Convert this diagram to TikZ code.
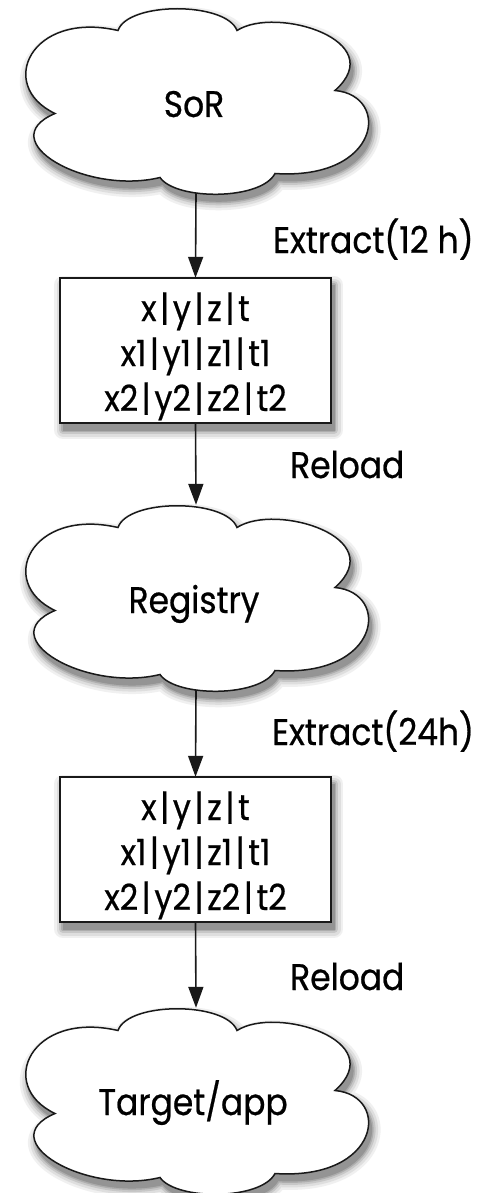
\documentclass[tikz,border=0pt]{standalone}
\usepackage{fontspec}
\setmainfont{Poppins}[FakeStretch=0.89, FakeBold=0.6]
\usetikzlibrary{arrows.meta}

% a bar with some air on both sides
\newcommand\sep{\kern3.5pt|\kern3.5pt}

\tikzset{
  cloudshape/.style={insert path={(-78,-70)
      .. controls (-68,-99) and (30,-99) .. (41,-70)
      .. controls (80,-95) and (195,-60) .. (139,-10)
      .. controls (195,-5) and (185,80) .. (79,73)
      .. controls (65,100) and (-20,100) .. (-36,77)
      .. controls (-110,95) and (-205,40) .. (-141,13)
      .. controls (-200,-15) and (-165,-90) .. cycle}},
  tableshape/.style={insert path={(-135.5,-72.5) rectangle (135.5,72.5)}},
  % soft drop shadow: stacked strokes, wide and light to thin and dark
  haze/.style 2 args={draw=black!#2, line width=#1, line join=round},
  outline/.style={draw=black!90, line width=1.5pt, fill=white},
  cloudarea/.style={minimum width=342pt, minimum height=185pt, inner sep=0pt},
  tablearea/.style={minimum width=271pt, minimum height=145pt, inner sep=0pt},
  cloudtext/.style={font=\fontsize{37}{44}\selectfont, anchor=base, inner sep=0pt},
  tbltext/.style={font=\fontsize{36}{44}\selectfont, anchor=base, inner sep=0pt},
  lbl/.style={font=\fontsize{37}{44}\selectfont, anchor=base west, inner sep=0pt},
  flow/.style={draw=black!90, line width=1.6pt, -{Triangle[length=21pt,width=15pt]}}
}

\newcommand\softshadow[2]{%
  \begin{scope}[shift={#1}, xshift=3pt, yshift=-7pt]
    \path[haze={18pt}{6}, #2];
    \path[haze={13pt}{13}, #2];
    \path[haze={8pt}{22}, #2];
    \path[haze={4pt}{32}, #2];
    \path[fill=black!42, draw=black!42, line width=1pt, #2];
  \end{scope}}

\begin{document}
\begin{tikzpicture}[x=1pt,y=-1pt]
  \useasboundingbox (0,0) rectangle (493,1193);
  \fill[white] (0,0) rectangle (493,1193);

  % shadows underneath everything
  \softshadow{(196,100.5)}{cloudshape}
  \softshadow{(196,597.5)}{cloudshape}
  \softshadow{(196,1100.5)}{cloudshape}
  \softshadow{(195.5,350.5)}{tableshape}
  \softshadow{(195.5,849.5)}{tableshape}

  % clouds: outline, then an invisible node of the same extent
  \path[outline, shift={(196,100.5)}, cloudshape];
  \node[cloudarea] (sor) at (196,100.5) {};
  \node[cloudtext] (sortxt) at (194,117) {SoR};

  \path[outline, shift={(196,597.5)}, cloudshape];
  \node[cloudarea] (reg) at (196,597.5) {};
  \node[cloudtext] (regtxt) at (194,613) {Registry};

  \path[outline, shift={(196,1100.5)}, cloudshape];
  \node[cloudarea] (tgt) at (196,1100.5) {};
  \node[cloudtext] (tgttxt) at (193,1115) {Target/app};

  % extracted tables
  \path[outline, shift={(195.5,350.5)}, tableshape];
  \node[tablearea] (tab1) at (195.5,350.5) {};
  \node[tbltext] (tab1a) at (195.5,321) {x\sep y\sep z\sep t};
  \node[tbltext] (tab1b) at (195.5,366) {x1\sep y1\sep z1\sep t1};
  \node[tbltext] (tab1c) at (195.5,411) {x2\sep y2\sep z2\sep t2};

  \path[outline, shift={(195.5,849.5)}, tableshape];
  \node[tablearea] (tab2) at (195.5,849.5) {};
  \node[tbltext] (tab2a) at (195.5,820) {x\sep y\sep z\sep t};
  \node[tbltext] (tab2b) at (195.5,865) {x1\sep y1\sep z1\sep t1};
  \node[tbltext] (tab2c) at (195.5,910) {x2\sep y2\sep z2\sep t2};

  % flow arrows
  \draw[flow] (sor.south) -- (tab1.north);
  \draw[flow] (tab1.south) -- (reg.north);
  \draw[flow] (reg.south) -- (tab2.north);
  \draw[flow] (tab2.south) -- (tgt.north);

  % step labels
  \node[lbl] (ex1) at (273,253) {Extract(12 h)};
  \node[lbl] (rl1) at (290,478) {Reload};
  \node[lbl] (ex2) at (272,745) {Extract(24h)};
  \node[lbl] (rl2) at (290,990) {Reload};
\end{tikzpicture}
\end{document}
